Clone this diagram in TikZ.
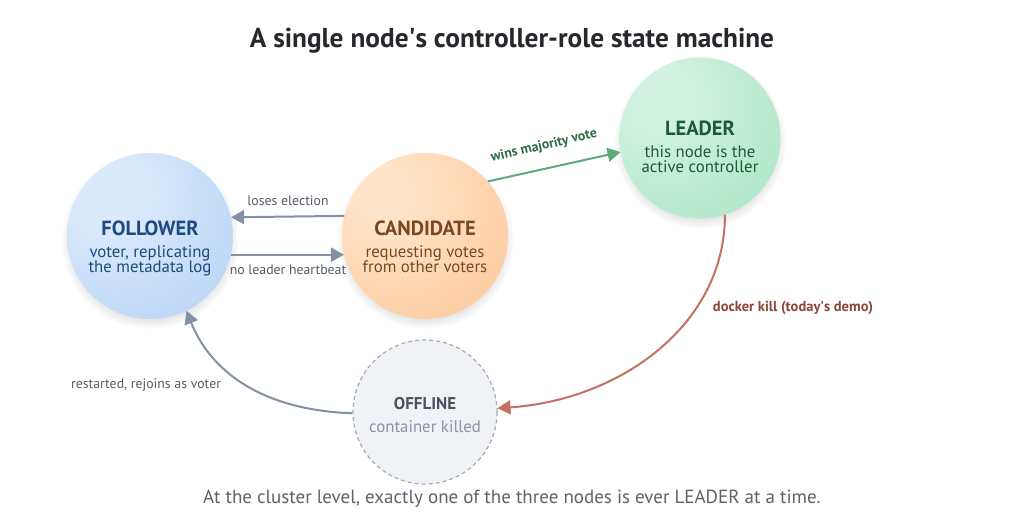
\documentclass[tikz,border=0pt]{standalone}
\usepackage{fontspec}
\setmainfont{PT Sans}
\usetikzlibrary{arrows.meta,shadows,fadings}
\definecolor{folIn}{HTML}{DCEBFC}
\definecolor{folOut}{HTML}{A6CAF3}
\definecolor{folTxt}{HTML}{1F4A7E}
\definecolor{canIn}{HTML}{FFE4C9}
\definecolor{canOut}{HTML}{FDBD86}
\definecolor{canTxt}{HTML}{7A4820}
\definecolor{leaIn}{HTML}{D2F2E1}
\definecolor{leaOut}{HTML}{9BE0BB}
\definecolor{leaTxt}{HTML}{1D5A39}
\definecolor{offFill}{HTML}{F0F2F5}
\definecolor{offLine}{HTML}{A3ABB8}
\definecolor{offTxt}{HTML}{4A5260}
\definecolor{offSub}{HTML}{8A93A1}
\definecolor{grayArr}{HTML}{8490A4}
\definecolor{grayLbl}{HTML}{565C66}
\definecolor{greenArr}{HTML}{5BAB7F}
\definecolor{greenLbl}{HTML}{2E6C48}
\definecolor{redArr}{HTML}{C47062}
\definecolor{redLbl}{HTML}{8C4639}
\definecolor{titleC}{HTML}{26282C}
\definecolor{capC}{HTML}{5E626A}
\pgfdeclareradialshading{folShade}{\pgfpoint{-14bp}{14bp}}{color(0bp)=(folIn); color(8bp)=(folIn); color(60bp)=(folOut); color(100bp)=(folOut)}
\pgfdeclareradialshading{canShade}{\pgfpoint{-14bp}{14bp}}{color(0bp)=(canIn); color(8bp)=(canIn); color(60bp)=(canOut); color(100bp)=(canOut)}
\pgfdeclareradialshading{leaShade}{\pgfpoint{-14bp}{14bp}}{color(0bp)=(leaIn); color(8bp)=(leaIn); color(60bp)=(leaOut); color(100bp)=(leaOut)}
\tikzset{
  state/.style={circle, inner sep=0pt, minimum size=#1,
    circular drop shadow={shadow xshift=0pt, shadow yshift=-4pt, opacity=0.25, shadow scale=1.07}},
  ttl/.style={anchor=base, font=\fontsize{20.5}{24}\selectfont\bfseries},
  sub/.style={anchor=base, font=\fontsize{16.8}{19}\selectfont},
  elbl/.style={font=\fontsize{13.8}{16}\selectfont, text=grayLbl, inner sep=0pt},
  tip/.style={-{Triangle[length=13pt,width=14pt]}},
  garrow/.style={draw=grayArr, line width=2pt, tip},
}
\begin{document}
\begin{tikzpicture}[x=1pt,y=-1pt]
\useasboundingbox (0,0) rectangle (1025,525);
\fill[white] (0,0) rectangle (1025,525);
% title
\node[anchor=base, font=\fontsize{27.3}{30}\selectfont\bfseries, text=titleC] (title) at (512,47) {A single node\textquotesingle s controller-role state machine};
% states
\node[state=166pt, shading=folShade] (fol) at (150,236) {};
\node[state=166pt, shading=canShade] (can) at (425,236) {};
\node[state=161pt, shading=leaShade] (lea) at (700,138) {};
\node[circle, inner sep=0pt, minimum size=144pt, fill=offFill, draw=offLine, line width=1.2pt, dash pattern=on 4pt off 3pt] (off) at (425,412) {};
% state texts
\node[ttl, text=folTxt] (folT) at (150,235) {FOLLOWER};
\node[sub, text=folTxt] (folS1) at (150,257) {voter, replicating};
\node[sub, text=folTxt] (folS2) at (150,272) {the metadata log};
\node[ttl, text=canTxt] (canT) at (425,235) {CANDIDATE};
\node[sub, text=canTxt] (canS1) at (425,257) {requesting votes};
\node[sub, text=canTxt] (canS2) at (425,272) {from other voters};
\node[ttl, text=leaTxt] (leaT) at (700,135) {LEADER};
\node[sub, text=leaTxt] (leaS1) at (700,157) {this node is the};
\node[sub, text=leaTxt] (leaS2) at (700,172) {active controller};
\node[anchor=base, font=\fontsize{17}{19}\selectfont\bfseries, text=offTxt] (offT) at (425,409) {OFFLINE};
\node[sub, text=offSub] (offS) at (425,432) {container killed};
% edges
\draw[garrow] (can.166.8) -- (fol.13.2);
\node[elbl] (lLose) at (288,201) {loses election};
\draw[garrow] (fol.-13.2) -- (can.193.2);
\node[elbl] (lHeart) at (288,270) {no leader heartbeat};
\draw[draw=greenArr, line width=2pt, tip] (can.41) -- (lea.190);
\node[elbl, text=greenLbl, rotate=13, font=\fontsize{13.8}{16}\selectfont\bfseries] (lWin) at (544,146) {wins majority vote};
\draw[draw=redArr, line width=2pt, tip] (lea.-72) .. controls (725,325) and (620,400) .. (off.3);
\node[elbl, text=redLbl, font=\fontsize{14.5}{16}\selectfont\bfseries] (lKill) at (793,308) {docker kill (today\textquotesingle s demo)};
\draw[garrow] (off.181) .. controls (260,410) and (210,370) .. (fol.-64);
\node[elbl] (lRest) at (146,385) {restarted, rejoins as voter};
% caption
\node[anchor=base, font=\fontsize{19}{22}\selectfont, text=capC] (cap) at (512,503) {At the cluster level, exactly one of the three nodes is ever LEADER at a time.};
\end{tikzpicture}
\end{document}
